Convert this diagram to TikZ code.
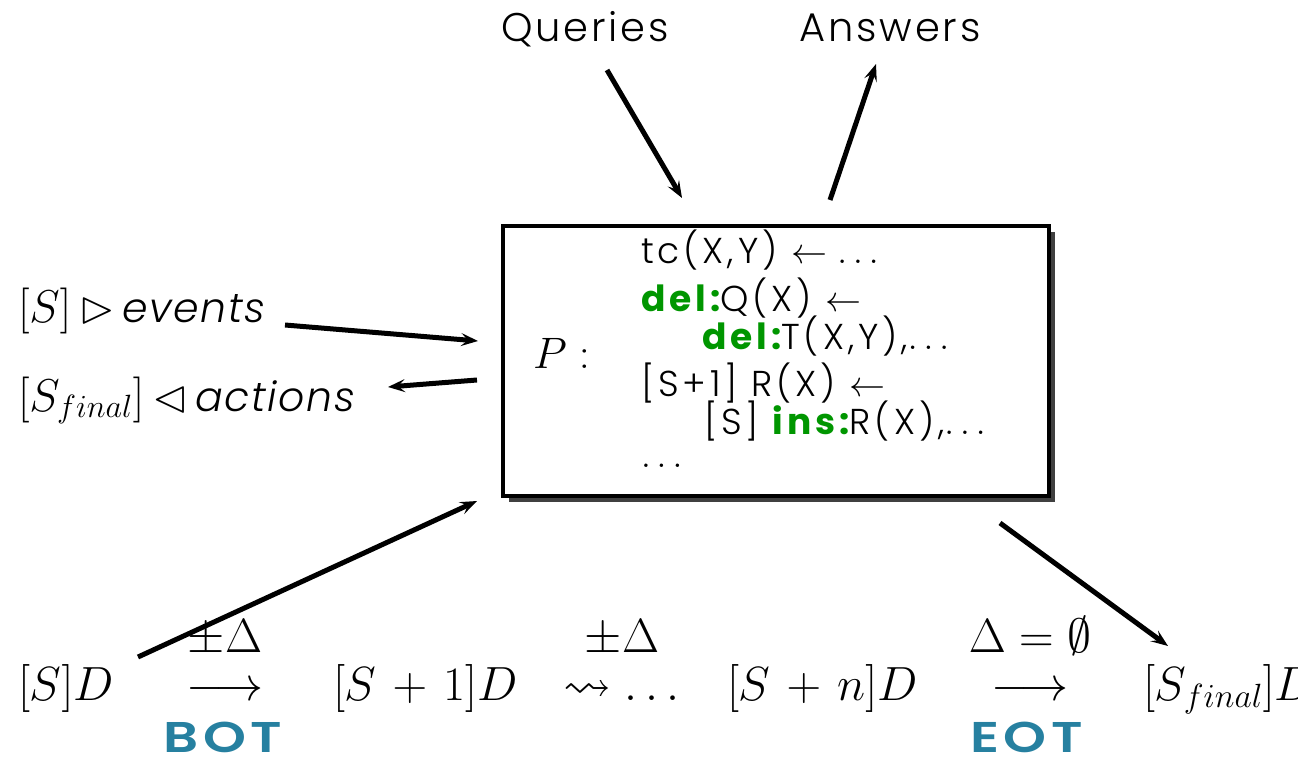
\RequirePackage{fix-cm}
\documentclass[tikz,border=0pt]{standalone}
\usepackage{amssymb}
\DeclareFontFamily{U}{msa}{}
\DeclareFontShape{U}{msa}{m}{n}{<->msam10}{}
\usepackage{fontspec}
\setsansfont{Poppins}[UprightFont=* Light, ItalicFont=* Light Italic, BoldFont=* Bold, BoldItalicFont=* Bold Italic]
\newfontfamily\botfam{Poppins}[UprightFont=* SemiBold]
\usetikzlibrary{arrows.meta}
\definecolor{dgreen}{RGB}{0,150,0}
\definecolor{tealc}{RGB}{38,128,160}
\medmuskip=6mu plus 2mu minus 4mu
\newcommand\mfont{\fontsize{48}{52}\selectfont}
\newcommand\pfont{\fontsize{44}{48}\selectfont}
\newcommand\lfont{\fontsize{46}{50}\selectfont}
\newcommand\qfont{\sffamily\fontsize{40}{44}\selectfont\addfontfeature{LetterSpace=7}}
\newcommand\evfont{\sffamily\itshape\fontsize{41}{44}\selectfont\addfontfeature{LetterSpace=4}}
\newcommand\bxfont{\sffamily\fontsize{36}{40}\selectfont\addfontfeature{LetterSpace=11}}
\newcommand\tfont{\botfam\fontsize{43}{46}\selectfont\addfontfeature{LetterSpace=9}}
\newcommand\wide[1]{\scalebox{1.27}[1]{#1}}
\tikzset{
  txt/.style={inner sep=0pt, outer sep=0pt},
  conn/.style={line width=5pt, -{Stealth[length=17pt,width=13pt,inset=7pt]}},
}
\begin{document}
\begin{tikzpicture}[x=1pt,y=-1pt]
\useasboundingbox (0,0) rectangle (1298,759);
% top labels
\node[txt, anchor=base, font=\qfont] (q) at (585,42) {Queries};
\node[txt, anchor=base, font=\qfont] (a) at (890,42) {Answers};
% box with shadow
\fill[black!75] (509,232) rectangle (1055,502);
\node[draw, fill=white, line width=4pt, minimum width=546pt, minimum height=270pt, anchor=north west, inner sep=0pt] (P) at (501,224) {};
\node[txt, anchor=base west, font=\pfont] (pl) at (533,368) {$P:$};
\node[txt, anchor=base west, font=\bxfont] (l1) at (641,264) {tc(X,Y) $\leftarrow\ldots$};
\node[txt, anchor=base west, font=\bxfont] (l2) at (641,311) {\textcolor{dgreen}{\bfseries del:}Q(X) $\leftarrow$};
\node[txt, anchor=base west, font=\bxfont] (l3) at (702,349) {\textcolor{dgreen}{\bfseries del:}T(X,Y),$\ldots$};
\node[txt, anchor=base west, font=\bxfont] (l4) at (641,396) {[S+1] R(X) $\leftarrow$};
\node[txt, anchor=base west, font=\bxfont] (l5) at (704,434) {[S] \textcolor{dgreen}{\bfseries ins:}R(X),$\ldots$};
\node[txt, anchor=base west, font=\bxfont] (l6) at (641,467) {$\ldots$};
% left labels
\node[txt, anchor=base west, font=\lfont] (ev) at (18,323) {$[S]\,\rhd$\,{\evfont events}};
\node[txt, anchor=base west, font=\lfont] (ac) at (18,411) {$[S_{final}]\,\lhd$\,{\evfont actions}};
% bottom row
\node[txt, anchor=base west, font=\mfont] (s0) at (18,700) {$[S]D$};
\node[txt, anchor=base, font=\mfont] (d1) at (225,652) {$\pm\Delta$};
\node[txt, anchor=base, font=\mfont] (r1) at (225,700) {$\longrightarrow$};
\node[txt, anchor=base west, font=\tfont, text=tealc] (bot) at (163,752) {\wide{BOT}};
\node[txt, anchor=base west, font=\mfont] (s1) at (333,700) {$[S+1]D$};
\node[txt, anchor=base, font=\mfont] (d2) at (622,652) {$\pm\Delta$};
\node[txt, anchor=base west, font=\mfont] (lt) at (563,700) {$\leadsto\ldots$};
\node[txt, anchor=base west, font=\mfont] (sn) at (727,700) {$[S+n]D$};
\node[txt, anchor=base, font=\mfont] (d3) at (1030,652) {$\Delta=\emptyset$};
\node[txt, anchor=base, font=\mfont] (r2) at (1030,700) {$\longrightarrow$};
\node[txt, anchor=base west, font=\tfont, text=tealc] (eot) at (970,752) {\wide{EOT}};
\node[txt, anchor=base west, font=\mfont] (sf) at (1143,700) {$[S_{final}]D$};
% connector end points
\coordinate (q1) at (607,70);  \coordinate (q2) at (682,198);
\coordinate (a1) at (830,200); \coordinate (a2) at (876,64);
\coordinate (e1) at (285,325); \coordinate (e2) at (478,341);
\coordinate (c1) at (477,380); \coordinate (c2) at (388,387);
\coordinate (b1) at (138,657); \coordinate (b2) at (477,501);
\coordinate (f1) at (1000,523); \coordinate (f2) at (1168,646);
\draw[conn] (q1) -- (q2);
\draw[conn] (a1) -- (a2);
\draw[conn] (e1) -- (e2);
\draw[conn] (c1) -- (c2);
\draw[conn] (b1) -- (b2);
\draw[conn] (f1) -- (f2);
\end{tikzpicture}
\end{document}
